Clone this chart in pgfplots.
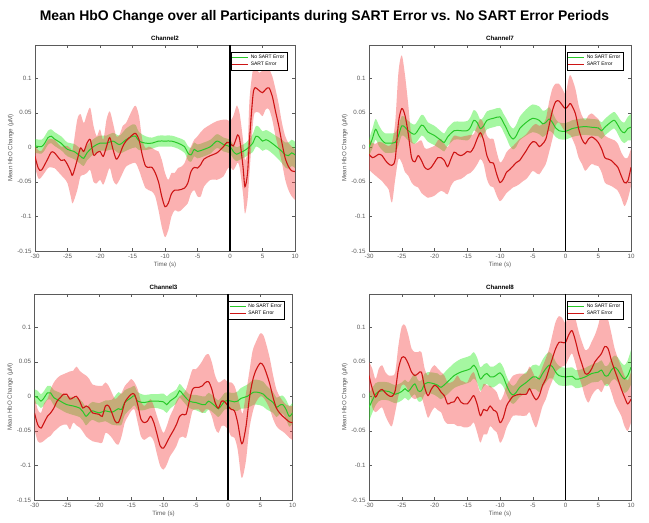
\documentclass[border=0pt]{standalone}
\usepackage{fontspec}
\setmainfont{Liberation Sans}
\usepackage{pgfplots}
\pgfplotsset{compat=1.18}
\usepackage{pgfplotstable}
\usepgfplotslibrary{fillbetween}

\definecolor{gline}{RGB}{40,200,40}
\definecolor{rline}{RGB}{205,20,20}
\definecolor{gband}{RGB}{30,235,20}
\definecolor{rband}{RGB}{245,60,60}
\definecolor{axgray}{RGB}{90,90,90}

% green = No SART Error (t, mean, half width), red = SART Error (t, mean, lower, upper)
\pgfplotstableread{
t m e
-30 0.002 0.010
-29 0.001 0.010
-28.5 0.006 0.010
-28 0.014 0.010
-27.5 0.016 0.010
-27 0.012 0.010
-26 0.006 0.010
-25 -0.003 0.010
-24 -0.006 0.011
-23 -0.013 0.011
-22.5 -0.016 0.011
-22 -0.008 0.011
-21 0.001 0.011
-20 0.006 0.011
-19 0.006 0.011
-18 0.009 0.012
-17 0.004 0.013
-16 0.011 0.016
-15 0.016 0.017
-14.5 0.016 0.016
-14 0.009 0.013
-13 0.006 0.010
-12 0.006 0.008
-11 0.009 0.008
-10 0.009 0.008
-9 0.009 0.008
-8 0.006 0.008
-7 0.001 0.009
-6.5 -0.008 0.010
-6 -0.011 0.010
-5.5 -0.003 0.010
-5 -0.006 0.010
-4 -0.003 0.010
-3 0.001 0.010
-2 0.009 0.010
-1 0.004 0.010
0 0.001 0.010
0.5 -0.006 0.010
1 -0.010 0.010
1.5 -0.008 0.010
2 -0.006 0.010
2.5 -0.003 0.010
3 0.001 0.011
3.5 0.006 0.013
4 0.016 0.015
4.5 0.014 0.015
5 0.009 0.014
5.5 0.011 0.014
6 0.009 0.014
7 0.002 0.015
8 -0.006 0.017
8.5 -0.011 0.018
9 -0.012 0.019
9.5 -0.008 0.019
10 -0.011 0.019
}\gTwo
\pgfplotstableread{
t m lo hi
-30 -0.013 -0.028 0.001
-29.5 -0.030 -0.045 -0.004
-29 -0.033 -0.043 -0.005
-28 -0.016 -0.030 0.011
-27.5 -0.007 -0.029 0.012
-27 -0.008 -0.030 0.011
-26 -0.019 -0.040 0.001
-25.5 -0.018 -0.045 0.002
-25 -0.025 -0.052 0.002
-24.5 -0.035 -0.071 -0.002
-24.2 -0.040 -0.081 -0.003
-23.5 -0.018 -0.062 0.040
-23 -0.001 -0.042 0.048
-22.5 -0.006 -0.040 0.035
-22 0.006 -0.037 0.048
-21.5 0.011 -0.033 0.057
-21 -0.011 -0.050 0.031
-20.5 -0.008 -0.052 0.016
-20 -0.006 -0.047 0.026
-19.5 -0.013 -0.054 0.011
-19 0.001 -0.042 0.040
-18.5 0.014 -0.030 0.052
-18 -0.003 -0.047 0.035
-17.5 -0.017 -0.054 0.016
-17 -0.011 -0.047 0.018
-16.5 0.001 -0.037 0.031
-16 0.009 -0.028 0.035
-15 0.018 -0.023 0.055
-14.5 0.020 -0.023 0.060
-14 0.011 -0.033 0.045
-13.5 -0.011 -0.047 0.011
-13 -0.027 -0.059 -0.001
-12.5 -0.029 -0.062 0.001
-12 -0.029 -0.064 -0.001
-11.5 -0.037 -0.071 -0.004
-11 -0.050 -0.091 -0.006
-10.5 -0.071 -0.115 -0.018
-10 -0.086 -0.130 -0.037
-9.5 -0.081 -0.120 -0.047
-9 -0.067 -0.100 -0.037
-8.5 -0.062 -0.091 -0.037
-8 -0.062 -0.093 -0.030
-7.5 -0.061 -0.091 -0.028
-7 -0.059 -0.086 -0.023
-6.5 -0.052 -0.081 -0.010
-6 -0.035 -0.067 0.001
-5.5 -0.029 -0.062 0.011
-5 -0.030 -0.071 0.016
-4.5 -0.025 -0.071 0.022
-4 -0.017 -0.057 0.027
-3 -0.012 -0.047 0.033
-2 -0.008 -0.047 0.038
-1 0.001 -0.042 0.040
-0.5 0.007 -0.033 0.040
0 0.006 -0.028 0.038
0.5 0.002 -0.033 0.045
1 0.014 -0.025 0.060
1.2 0.018 -0.022 0.058
1.5 0.011 -0.030 0.048
2 -0.028 -0.067 0.011
2.3 -0.057 -0.096 -0.018
2.7 -0.037 -0.076 -0.003
3 0.011 -0.037 0.069
3.5 0.072 0.031 0.111
3.8 0.086 0.050 0.116
4.5 0.082 0.050 0.108
5 0.079 0.045 0.111
5.5 0.084 0.055 0.113
6 0.086 0.055 0.113
6.5 0.074 0.040 0.103
7 0.052 0.016 0.084
7.5 0.031 -0.003 0.062
8 0.006 -0.023 0.035
8.5 -0.016 -0.047 0.016
9 -0.028 -0.062 0.006
9.5 -0.034 -0.071 0.001
10 -0.035 -0.076 -0.003
}\rTwo
\pgfplotstableread{
t m e
-30 0.000 0.012
-29.5 0.012 0.014
-29 0.026 0.015
-28.5 0.017 0.015
-28 0.010 0.014
-27.5 0.006 0.014
-27 0.006 0.014
-26 0.007 0.014
-25.5 0.017 0.014
-25 0.031 0.014
-24.5 0.029 0.014
-24 0.024 0.014
-23 0.019 0.014
-22 0.032 0.015
-21.5 0.029 0.015
-21 0.022 0.014
-20 0.017 0.014
-19 0.010 0.013
-18.5 0.007 0.013
-18 0.015 0.013
-17 0.024 0.013
-16 0.024 0.013
-15 0.024 0.014
-14.5 0.029 0.015
-14 0.039 0.015
-13.5 0.036 0.014
-13 0.027 0.013
-12.5 0.031 0.013
-12 0.039 0.013
-11 0.042 0.013
-10 0.044 0.013
-9.5 0.036 0.013
-9 0.027 0.014
-8.5 0.017 0.015
-8 0.012 0.015
-7.5 0.017 0.016
-7 0.027 0.017
-6 0.036 0.019
-5 0.042 0.020
-4 0.039 0.020
-3.5 0.034 0.019
-3 0.036 0.018
-2.5 0.041 0.017
-2 0.036 0.015
-1.5 0.028 0.013
-1 0.024 0.012
0 0.023 0.012
1 0.027 0.012
2 0.029 0.012
3 0.030 0.012
4 0.029 0.012
5 0.028 0.012
5.5 0.024 0.012
6 0.029 0.012
7 0.037 0.012
7.5 0.039 0.012
8 0.032 0.013
8.5 0.024 0.014
9 0.021 0.015
9.5 0.027 0.017
10 0.029 0.019
}\gSeven
\pgfplotstableread{
t m lo hi
-30 -0.010 -0.032 0.012
-29.5 -0.015 -0.037 0.006
-29 -0.013 -0.041 0.005
-28.5 -0.010 -0.045 0.008
-28 -0.012 -0.049 0.007
-27.5 -0.019 -0.055 0.004
-27 -0.024 -0.061 0.002
-26.5 -0.026 -0.080 0.007
-26 -0.017 -0.046 0.036
-25.5 0.036 -0.017 0.109
-25 0.056 -0.022 0.133
-24.5 0.046 -0.036 0.104
-24 0.019 -0.041 0.061
-23.5 -0.015 -0.051 0.012
-23 -0.021 -0.056 0.005
-22.5 -0.012 -0.058 0.008
-22 -0.019 -0.066 0.010
-21.5 -0.029 -0.070 -0.001
-21 -0.032 -0.073 -0.002
-20.5 -0.029 -0.072 0.000
-20 -0.022 -0.070 0.002
-19.5 -0.015 -0.066 0.010
-19 -0.015 -0.063 0.012
-18.5 -0.019 -0.065 0.005
-18 -0.028 -0.068 0.000
-17.5 -0.017 -0.056 0.010
-17 -0.007 -0.049 0.017
-16.5 -0.010 -0.047 0.016
-16 -0.012 -0.046 0.015
-15.5 -0.010 -0.043 0.016
-15 -0.006 -0.039 0.017
-14.5 -0.007 -0.037 0.018
-14 0.000 -0.032 0.019
-13.5 0.012 -0.025 0.031
-13 0.021 -0.017 0.041
-12.5 0.010 -0.024 0.034
-12 -0.012 -0.046 0.017
-11.5 -0.022 -0.056 0.012
-11 -0.023 -0.058 0.012
-10.5 -0.039 -0.070 -0.007
-10 -0.051 -0.078 -0.022
-9.5 -0.046 -0.073 -0.017
-9 -0.036 -0.066 -0.007
-8.5 -0.032 -0.062 -0.002
-8 -0.027 -0.058 0.002
-7.5 -0.022 -0.056 0.007
-7 -0.019 -0.053 0.012
-6.5 -0.012 -0.049 0.015
-6 -0.005 -0.046 0.019
-5.5 0.003 -0.040 0.025
-5 0.008 -0.034 0.031
-4.5 0.007 -0.037 0.034
-4 0.001 -0.039 0.031
-3.5 0.005 -0.032 0.034
-3 0.012 -0.024 0.041
-2.5 0.032 -0.007 0.066
-2 0.053 0.012 0.085
-1.5 0.066 0.032 0.092
-1 0.067 0.036 0.092
-0.5 0.061 0.029 0.085
0 0.056 0.022 0.078
0.5 0.061 0.019 0.100
0.8 0.063 0.017 0.104
1.5 0.049 0.002 0.085
2 0.027 -0.015 0.061
2.5 0.012 -0.024 0.046
3 0.005 -0.034 0.039
3.5 0.012 -0.029 0.046
4 0.015 -0.024 0.049
4.5 0.012 -0.026 0.045
5 0.007 -0.027 0.041
5.5 -0.002 -0.036 0.029
6 -0.015 -0.051 0.017
6.5 -0.017 -0.054 0.014
7 -0.019 -0.056 0.012
7.5 -0.024 -0.059 0.010
8 -0.029 -0.063 0.005
8.5 -0.041 -0.073 -0.007
9 -0.051 -0.085 -0.015
9.5 -0.049 -0.075 -0.015
10 -0.029 -0.056 -0.002
}\rSeven
\pgfplotstableread{
t m e
-30 0.000 0.010
-29.5 -0.002 0.010
-29 -0.007 0.010
-28.5 -0.002 0.010
-28 0.005 0.010
-27.5 0.005 0.010
-27 -0.002 0.011
-26 -0.007 0.012
-25 -0.012 0.012
-24 -0.014 0.013
-23 -0.017 0.013
-22.5 -0.022 0.013
-22 -0.029 0.013
-21.5 -0.024 0.013
-21 -0.021 0.013
-20 -0.024 0.014
-19 -0.021 0.015
-18 -0.023 0.018
-17 -0.018 0.024
-16.5 -0.019 0.022
-16 -0.009 0.018
-15 -0.002 0.015
-14.5 0.001 0.014
-14 -0.007 0.013
-13 -0.009 0.011
-12 -0.007 0.010
-11 -0.007 0.010
-10 -0.008 0.012
-9.5 -0.012 0.012
-9 -0.007 0.011
-8 0.000 0.010
-7.5 0.008 0.010
-7 0.003 0.010
-6 -0.007 0.010
-5 -0.009 0.011
-4 -0.012 0.012
-3.5 -0.012 0.012
-3 -0.007 0.012
-2 -0.014 0.012
-1.5 -0.018 0.012
-1 -0.013 0.012
-0.5 -0.007 0.012
0 -0.006 0.012
0.5 -0.007 0.012
1 -0.008 0.013
1.5 -0.007 0.014
2 -0.003 0.015
3 0.000 0.017
4 0.006 0.018
5 0.005 0.018
5.5 0.003 0.018
6 -0.002 0.017
7 -0.009 0.015
7.5 -0.016 0.014
8 -0.013 0.013
8.5 -0.012 0.013
9 -0.019 0.014
9.5 -0.029 0.015
10 -0.024 0.015
}\gThree
\pgfplotstableread{
t m lo hi
-30 -0.024 -0.048 0.000
-29.5 -0.041 -0.065 -0.019
-29 -0.046 -0.067 -0.024
-28.5 -0.038 -0.064 -0.010
-28 -0.029 -0.060 -0.004
-27.5 -0.024 -0.057 0.010
-27 -0.017 -0.051 0.020
-26.5 -0.007 -0.047 0.026
-26 -0.002 -0.043 0.030
-25.5 0.003 -0.041 0.032
-25 0.003 -0.041 0.034
-24.5 -0.004 -0.048 0.036
-24 -0.002 -0.038 0.037
-23.5 0.000 -0.042 0.043
-23 -0.007 -0.045 0.037
-22.5 -0.017 -0.051 0.033
-22 -0.014 -0.058 0.030
-21.5 -0.017 -0.062 0.025
-21 -0.024 -0.065 0.017
-20 -0.026 -0.067 0.015
-19.5 -0.029 -0.067 0.015
-19 -0.014 -0.053 0.020
-18.5 -0.014 -0.055 0.015
-18 -0.024 -0.060 0.005
-17.5 -0.036 -0.067 -0.004
-17 -0.038 -0.070 0.000
-16.5 -0.026 -0.058 0.005
-16 -0.009 -0.038 0.015
-15.5 -0.002 -0.029 0.020
-15 0.003 -0.021 0.025
-14.5 0.003 -0.019 0.020
-14 -0.012 -0.038 0.010
-13.5 -0.033 -0.058 -0.007
-13 -0.038 -0.063 -0.014
-12.5 -0.036 -0.060 -0.009
-12 -0.029 -0.058 -0.004
-11.5 -0.038 -0.065 -0.014
-11 -0.055 -0.084 -0.029
-10.5 -0.072 -0.101 -0.043
-10 -0.075 -0.106 -0.053
-9.5 -0.067 -0.099 -0.043
-9 -0.058 -0.087 -0.029
-8.5 -0.050 -0.080 -0.019
-8 -0.041 -0.072 -0.007
-7.5 -0.029 -0.060 0.000
-7 -0.026 -0.058 0.003
-6.5 -0.026 -0.060 0.010
-6 -0.007 -0.041 0.025
-5.5 0.010 -0.021 0.039
-5 0.013 -0.019 0.039
-4.5 0.013 -0.019 0.044
-4 0.015 -0.024 0.051
-3.5 0.020 -0.019 0.059
-3 0.021 -0.019 0.061
-2.5 0.010 -0.029 0.049
-2 -0.009 -0.046 0.030
-1.5 -0.017 -0.053 0.020
-1 -0.007 -0.043 0.022
-0.5 -0.008 -0.043 0.025
0 -0.014 -0.048 0.020
0.5 -0.019 -0.058 0.020
1 -0.021 -0.060 0.015
1.5 -0.038 -0.077 0.000
2 -0.065 -0.114 -0.019
2.3 -0.067 -0.116 -0.024
2.8 -0.043 -0.092 0.005
3.3 -0.004 -0.048 0.035
3.8 0.022 -0.024 0.065
4.3 0.037 -0.009 0.078
5 0.048 0.000 0.091
5.5 0.044 -0.002 0.088
6 0.032 -0.009 0.073
6.5 0.017 -0.019 0.054
7 -0.002 -0.033 0.030
7.5 -0.017 -0.043 0.010
8 -0.024 -0.048 0.000
8.5 -0.029 -0.051 -0.007
9 -0.033 -0.055 -0.012
9.5 -0.037 -0.060 -0.014
10 -0.038 -0.063 -0.014
}\rThree
\pgfplotstableread{
t m e
-30 -0.016 0.020
-29.5 -0.006 0.018
-29 0.003 0.016
-28.5 0.007 0.014
-28 0.008 0.013
-27 0.007 0.013
-26 0.003 0.013
-25 0.007 0.013
-24.5 0.011 0.013
-24 0.007 0.013
-23.5 0.013 0.014
-23 0.018 0.015
-22.5 0.008 0.015
-22 0.008 0.015
-21.5 0.018 0.015
-21 0.020 0.015
-20 0.018 0.016
-19.5 0.016 0.017
-19 0.013 0.017
-18 0.021 0.018
-17 0.030 0.018
-16 0.035 0.019
-15 0.038 0.019
-14.5 0.040 0.019
-14 0.045 0.019
-13.5 0.038 0.018
-13 0.025 0.017
-12.5 0.030 0.016
-12 0.033 0.015
-11.5 0.028 0.015
-11 0.028 0.015
-10.5 0.031 0.015
-10 0.034 0.015
-9.5 0.028 0.014
-9 0.016 0.013
-8.5 0.006 0.013
-8 0.002 0.013
-7.5 0.006 0.013
-7 0.013 0.014
-6 0.020 0.015
-5 0.028 0.017
-4.5 0.028 0.018
-4 0.025 0.019
-3.5 0.033 0.020
-3 0.040 0.020
-2.5 0.045 0.019
-2 0.043 0.017
-1.5 0.035 0.015
-1 0.030 0.014
0 0.028 0.013
1 0.029 0.013
1.5 0.025 0.013
2 0.025 0.013
3 0.028 0.013
4 0.033 0.013
5 0.035 0.014
5.5 0.038 0.014
6 0.030 0.014
6.5 0.030 0.015
7 0.038 0.016
7.5 0.042 0.017
8 0.038 0.018
8.5 0.030 0.019
9 0.025 0.020
9.5 0.030 0.022
10 0.042 0.025
}\gEight
\pgfplotstableread{
t m lo hi
-30 0.030 0.011 0.050
-29.5 0.011 -0.016 0.040
-29 -0.001 -0.023 0.025
-28.5 0.007 -0.019 0.040
-28 0.010 -0.016 0.045
-27.5 0.005 -0.028 0.035
-27 0.001 -0.038 0.030
-26.5 0.000 -0.043 0.030
-26 0.008 -0.023 0.035
-25.5 0.040 0.001 0.074
-25 0.056 0.016 0.101
-24.5 0.056 0.016 0.103
-24 0.047 0.008 0.089
-23.5 0.035 -0.001 0.069
-23 0.030 -0.004 0.064
-22.5 0.033 -0.002 0.064
-22 0.035 -0.001 0.064
-21.5 0.013 -0.016 0.040
-21 0.001 -0.031 0.030
-20.5 0.010 -0.023 0.040
-20 0.016 -0.016 0.045
-19.5 0.013 -0.020 0.040
-19 0.006 -0.023 0.035
-18.5 0.001 -0.035 0.030
-18 -0.011 -0.040 0.020
-17.5 -0.009 -0.040 0.020
-17 -0.008 -0.040 0.023
-16.5 -0.001 -0.043 0.030
-16 -0.008 -0.043 0.023
-15.5 -0.011 -0.045 0.021
-15 -0.011 -0.045 0.020
-14.5 -0.005 -0.043 0.030
-14 0.001 -0.038 0.035
-13.5 -0.011 -0.052 0.020
-13 -0.028 -0.067 0.006
-12.5 -0.019 -0.055 0.018
-12 -0.021 -0.055 0.016
-11.5 -0.014 -0.043 0.015
-11 -0.020 -0.048 0.011
-10.5 -0.023 -0.052 0.006
-10 -0.038 -0.067 -0.006
-9.5 -0.031 -0.060 0.001
-9 -0.014 -0.045 0.016
-8.5 -0.006 -0.036 0.023
-8 0.000 -0.028 0.030
-7 0.003 -0.028 0.033
-6 0.003 -0.028 0.033
-5.5 0.011 -0.023 0.043
-5 0.002 -0.036 0.035
-4.5 -0.005 -0.045 0.025
-4 0.001 -0.031 0.030
-3.5 0.016 -0.014 0.043
-3 0.025 -0.004 0.055
-2.5 0.040 0.011 0.069
-2 0.055 0.023 0.089
-1.5 0.069 0.035 0.108
-1 0.078 0.040 0.116
-0.5 0.078 0.043 0.113
0 0.078 0.045 0.106
0.5 0.089 0.055 0.118
1 0.095 0.062 0.125
1.5 0.081 0.048 0.113
2 0.062 0.030 0.094
2.5 0.047 0.016 0.079
3 0.033 -0.001 0.067
3.5 0.033 -0.009 0.069
4 0.040 0.001 0.079
4.5 0.050 0.008 0.089
5 0.056 0.011 0.103
5.5 0.062 0.006 0.123
6 0.072 0.016 0.123
6.5 0.069 0.018 0.111
7 0.052 0.006 0.091
7.5 0.038 -0.009 0.069
8 0.025 -0.019 0.055
8.5 0.011 -0.028 0.043
9 -0.001 -0.043 0.030
9.5 -0.011 -0.050 0.023
10 -0.004 -0.038 0.035
}\rEight

\pgfplotsset{hbo/.style={
  scale only axis, height=206bp, anchor=south west,
  xmin=-30, xmax=10, ymin=-0.15, ymax=0.148,
  xtick={-30,-25,...,10}, xticklabels={-30,-25,-20,-15,-10,-5,0,5,10},
  ytick={-0.15,-0.1,-0.05,0,0.05,0.1},
  yticklabels={-0.15,-0.1,-0.05,0,0.05,0.1},
  tick align=inside, major tick length=3bp,
  axis line style={axgray, line width=0.4pt},
  tick style={axgray, line width=0.4pt},
  ticklabel style={font=\fontsize{6.2}{7}\selectfont, text=axgray},
  title style={font=\fontsize{6.2}{7}\selectfont\bfseries, yshift=-5bp},
  xlabel={Time (s)}, ylabel={Mean HbO Change (μM)},
  label style={font=\fontsize{6.2}{7}\selectfont, text=axgray},
  xlabel style={yshift=4bp}, ylabel style={yshift=-3bp},
  legend style={at={(1,1)}, anchor=north east, xshift=-8bp, yshift=-7bp,
    font=\fontsize{5}{5.5}\selectfont, draw=black,
    inner sep=0.6bp, row sep=-1.5bp, cells={anchor=west}},
  legend image code/.code={\draw[##1, line width=1.2pt] (0bp,0bp) -- (16bp,0bp);},
}}

\newcommand{\hbopanel}[5]{%
\begin{axis}[hbo, at={#1}, width=#2, title={#3}]
  \addplot[draw=none, smooth, name path=gu, forget plot] table[x=t, y expr=\thisrow{m}+\thisrow{e}] {#4};
  \addplot[draw=none, smooth, name path=gl, forget plot] table[x=t, y expr=\thisrow{m}-\thisrow{e}] {#4};
  \addplot[fill=gband, fill opacity=0.4, draw=none, forget plot] fill between[of=gu and gl];
  \addplot[gline, line width=1pt, smooth] table[x=t, y=m] {#4};
  \addlegendentry{No SART Error}
  \addplot[draw=none, smooth, name path=ru, forget plot] table[x=t, y=hi] {#5};
  \addplot[draw=none, smooth, name path=rl, forget plot] table[x=t, y=lo] {#5};
  \addplot[fill=rband, fill opacity=0.4, draw=none, forget plot] fill between[of=ru and rl];
  \addplot[rline, line width=1.1pt, smooth] table[x=t, y=m] {#5};
  \addlegendentry{SART Error}
  \addplot[black, line width=1.2pt, forget plot] coordinates {(0,-0.15) (0,0.148)};
\end{axis}}

\begin{document}
\begin{tikzpicture}
\path (0,0) rectangle (649bp,523bp);
\node[font=\fontsize{14}{16}\selectfont\bfseries] at (324.5bp,506bp)
  {Mean HbO Change over all Participants during SART Error vs. No SART Error Periods};
\hbopanel{(35bp,272bp)}{260bp}{Channel2}{\gTwo}{\rTwo}
\hbopanel{(369bp,272bp)}{262bp}{Channel7}{\gSeven}{\rSeven}
\hbopanel{(34.5bp,23bp)}{258bp}{Channel3}{\gThree}{\rThree}
\hbopanel{(369bp,23bp)}{262bp}{Channel8}{\gEight}{\rEight}
\end{tikzpicture}
\end{document}
